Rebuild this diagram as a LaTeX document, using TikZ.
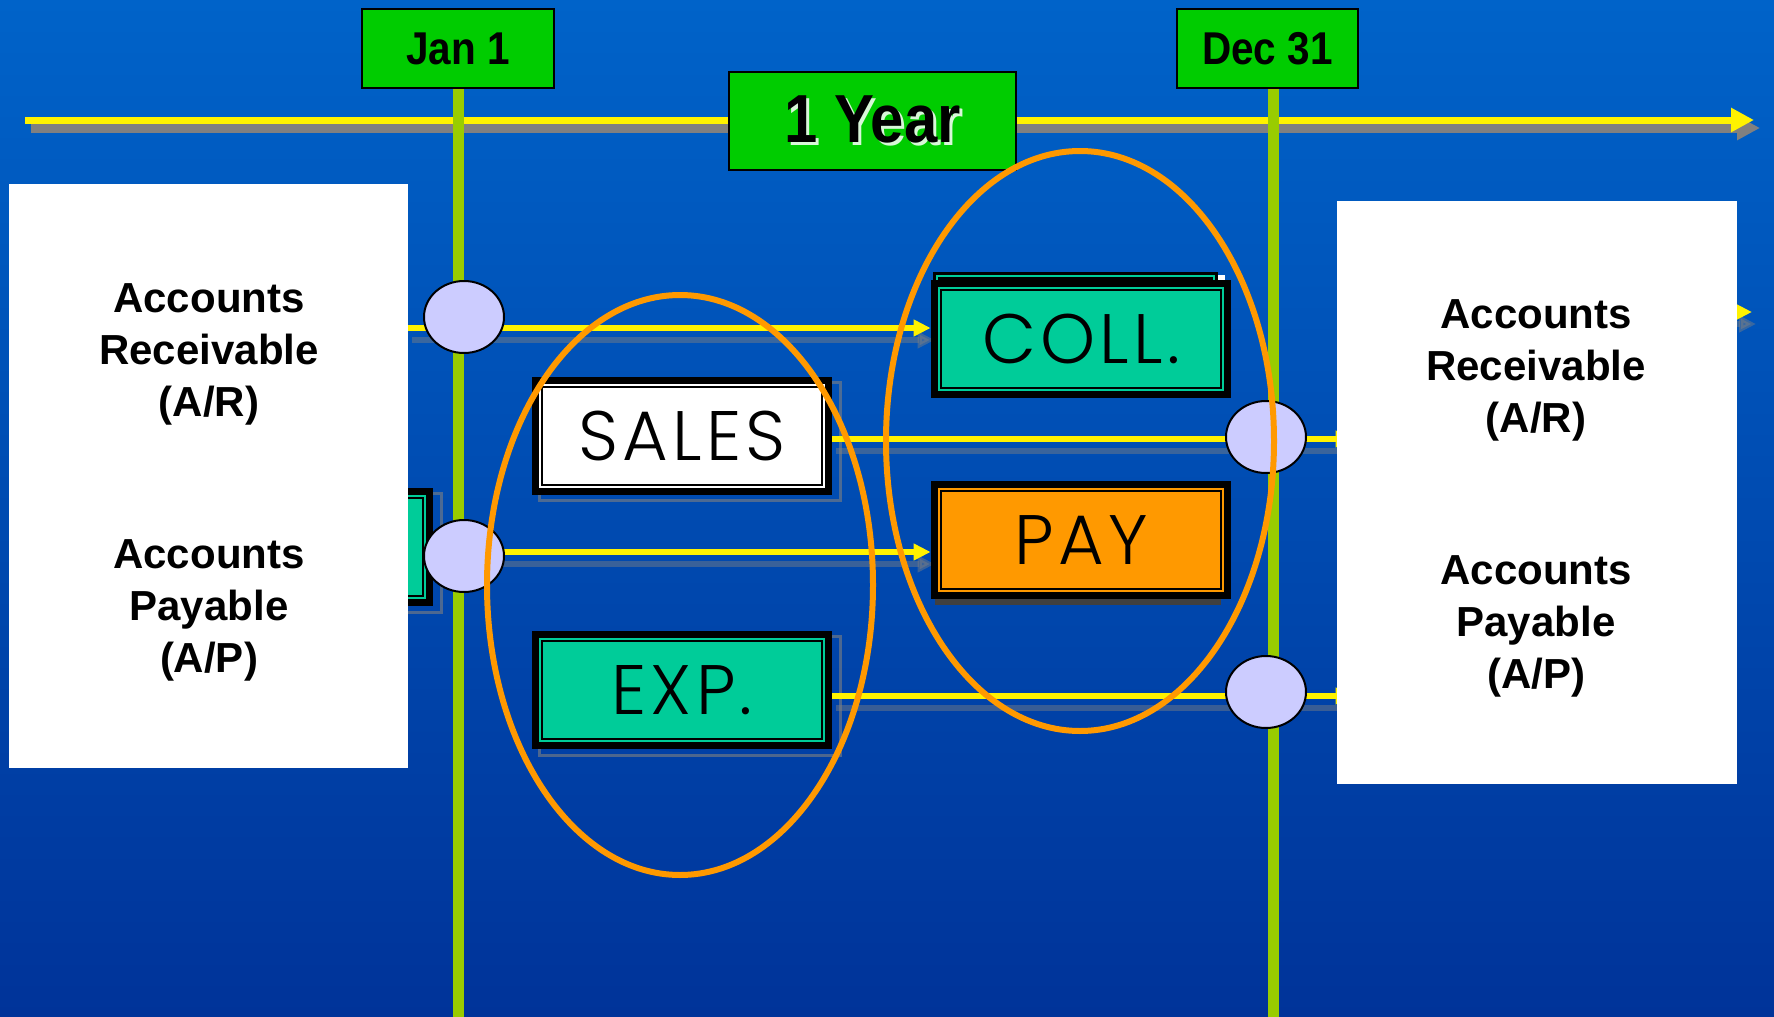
\documentclass[tikz,border=0pt]{standalone}
\usepackage{fontspec}
\setmainfont{Liberation Sans}
\newfontfamily\narrowfont{Liberation Sans}[FakeStretch=0.88]
\IfFontExistsTF{Poppins Light}
  {\newfontfamily\boxfont{Poppins Light}[LetterSpace=6]}
  {\newfontfamily\boxfont{Poppins}[LetterSpace=6]}
\usetikzlibrary{shapes.geometric, arrows.meta, positioning}

\definecolor{bgtop}{RGB}{0,99,201}
\definecolor{bgbot}{RGB}{0,51,153}
\definecolor{tealbox}{HTML}{00CC99}
\definecolor{orangebox}{HTML}{FF9900}
\definecolor{datebox}{HTML}{00CC00}
\definecolor{dategreen}{HTML}{99CC00}
\definecolor{lav}{HTML}{CCCCFF}

\pgfdeclarelayer{back}
\pgfdeclarelayer{mid}
\pgfsetlayers{back,mid,main}

\tikzset{
  tbox/.style={rectangle, fill=black, minimum width=150pt, minimum height=59pt, inner sep=0pt,
    font=\boxfont\fontsize{35}{35}\selectfont,
    path picture={
      \fill[#1] ([shift={(3.5pt,-3.5pt)}]path picture bounding box.north west)
        rectangle ([shift={(-3.5pt,3.5pt)}]path picture bounding box.south east);
      \draw[black, line width=1pt] ([shift={(5pt,-5pt)}]path picture bounding box.north west)
        rectangle ([shift={(-5pt,5pt)}]path picture bounding box.south east);
    }},
  datetag/.style={rectangle, draw=black, line width=1pt, fill=datebox, minimum height=39.5pt,
    inner sep=0pt, font=\narrowfont\bfseries\fontsize{23}{23}\selectfont},
  panel/.style={rectangle, fill=white, inner sep=0pt},
  acct/.style={align=center, font=\bfseries\fontsize{21}{26}\selectfont},
  knot/.style={ellipse, draw=black, line width=1pt, fill=lav, minimum width=40pt,
    minimum height=36pt, inner sep=0pt},
  ring/.style={draw=orangebox, line width=3pt},
  timeline/.style={draw=yellow, line width=3.5pt, -{Triangle[length=11.5pt, width=11.5pt]}},
  timeshade/.style={draw=gray, line width=4.5pt, -{Triangle[length=11.5pt, width=11.5pt]},
    transform canvas={shift={(3pt,-4pt)}}},
  dateln/.style={draw=dategreen, line width=5.5pt},
  flow/.style={draw=yellow, line width=2.6pt, -{Triangle[length=8.5pt, width=8pt]}},
  flowshade/.style={draw=gray, opacity=0.45, line width=2.6pt, -{Triangle[length=8.5pt, width=8pt]},
    transform canvas={shift={(2pt,-6pt)}}},
  boxshade/.style={draw=gray, opacity=0.6, line width=1.5pt},
}

\begin{document}
\begin{tikzpicture}[x=0.5pt, y=-0.5pt]
\useasboundingbox (0,0) rectangle (1774,1017);

% background
\begin{pgfonlayer}{back}
\shade[top color=bgtop, bottom color=bgbot] (0,0) rectangle (1774,1017);
\end{pgfonlayer}

\coordinate (bot) at (0,1017);
\coordinate (tl0) at (25,120);
\coordinate (tl1) at (1754,120);
\coordinate (ya) at (0,328);
\coordinate (yb) at (0,552);
\coordinate (yc) at (0,439);
\coordinate (yd) at (0,696);
\coordinate (ye) at (1752,312);

% date tags
\node[datetag, minimum width=96pt] (jan) at (458,48.5) {Jan 1};
\node[datetag, minimum width=90.5pt] (dec) at (1267.5,48.5) {Dec 31};
\node[datetag, minimum width=143.5pt, minimum height=49pt,
  font=\narrowfont\bfseries\fontsize{34}{34}\selectfont] (year) at (872.5,121)
  {\rlap{\kern1.5pt\raisebox{-1.5pt}{\color{white!85!datebox}1 Year}}1 Year};
\coordinate (decfoot) at ([xshift=2.75pt]dec.south);

% boxes behind and the two account panels
\node[tbox=tealbox] (prev) at (283,547) {};
\node[panel, minimum width=199.5pt, minimum height=292pt] (lbox) at (208.5,476) {};
\node[panel, minimum width=200pt, minimum height=291.5pt] (rbox) at (1537,492.5) {};
\node[acct] (lar) at (209,354) {Accounts\\Receivable\\(A/R)};
\node[acct] (lap) at (209,610) {Accounts\\Payable\\(A/P)};
\node[acct] (rar) at (1536,370) {Accounts\\Receivable\\(A/R)};
\node[acct] (rap) at (1536,626) {Accounts\\Payable\\(A/P)};

% transaction boxes
\node[tbox=white] (sales) at (682,435.5) {SALES};
\node[tbox=tealbox] (coll) at (1081,338.5) {COLL.};
\node[tbox=orangebox, below=41.5pt of coll] (pay) {PAY};
\node[tbox=tealbox, below=68pt of sales] (exp) {EXP.};

% balance dots
\foreach \n/\px/\py in {l1/464/317, l2/464/556, r1/1266/437, r2/1266/692}
  \node[knot] (\n) at (\px,\py) {};

% orange rings
\draw[ring] (680,585) ellipse [x radius=96.5pt, y radius=145pt];
\draw[ring] (1080,441) ellipse [x radius=97pt, y radius=145pt];

\begin{pgfonlayer}{mid}
% time line
\draw[timeshade] (tl0) -- (tl1);
\draw[timeline] (tl0) -- (tl1);
% date lines
\draw[dateln] (jan.south) -- (jan.south |- bot);
\draw[dateln] (decfoot) -- (decfoot |- bot);
% box shadows
\foreach \b in {prev,sales,exp}
  \draw[boxshade] ([shift={(8,6)}]\b.north west) rectangle ([shift={(8,6)}]\b.south east);
\fill[gray!50!black] ([shift={(4,-2)}]pay.south west) rectangle ([shift={(-10,5)}]pay.south east);
\fill[black] ([shift={(2,-7)}]coll.north west) rectangle ([shift={(-13,20)}]coll.north east);
\draw[tealbox, line width=1pt] ([shift={(6,-3)}]coll.north west) rectangle ([shift={(-17,20)}]coll.north east);
\fill[white] ([shift={(-13,-4)}]coll.north east) rectangle ([shift={(-6,3)}]coll.north east);
% flows
\foreach \st in {flowshade,flow}{
  \draw[\st] (lbox.east |- ya) -- (coll.west |- ya);
  \draw[\st] (prev.east |- yb) -- (pay.west |- yb);
  \draw[\st, shorten >=-8pt] (sales.east |- yc) -- (rbox.west |- yc);
  \draw[\st, shorten >=-8pt] (exp.east |- yd) -- (rbox.west |- yd);
  \draw[\st] (rbox.center |- ye) -- (ye);
}
\end{pgfonlayer}

\end{tikzpicture}
\end{document}
